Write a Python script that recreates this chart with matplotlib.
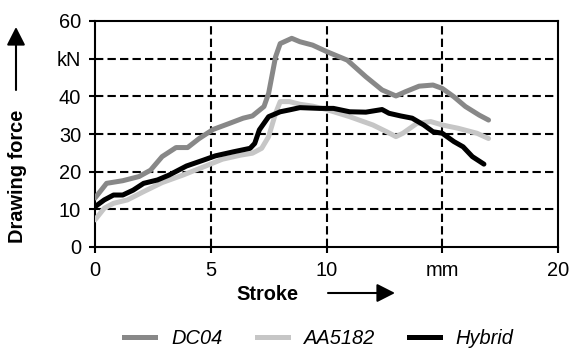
import matplotlib
matplotlib.use("Agg")
import matplotlib.pyplot as plt
from matplotlib.lines import Line2D

plt.rcParams['font.family'] = ['Liberation Sans', 'DejaVu Sans']

# ---- data ----
dc04_x = [0, 0.5, 1.2, 1.9, 2.4, 2.9, 3.5, 4.0, 4.5, 5.1, 5.8, 6.4, 6.8, 7.3, 7.5, 7.8, 8.0, 8.5, 8.85,
          9.4, 10.0, 10.9, 11.7, 12.4, 13.0, 13.4, 14.0, 14.6, 15.0, 15.5, 16.0, 16.6, 17.0]
dc04_y = [13.0, 16.9, 17.6, 18.7, 20.4, 24.0, 26.4, 26.4, 28.8, 31.2, 32.8, 34.2, 34.8, 37.3, 40.8, 50.5, 54.0, 55.4, 54.5,
          53.6, 51.9, 49.6, 45.2, 41.7, 40.1, 41.2, 42.7, 43.0, 42.1, 39.9, 37.3, 35.0, 33.7]

aa_x = [0, 0.4, 0.8, 1.4, 2.1, 2.9, 3.8, 4.7, 5.5, 6.3, 6.8, 7.2, 7.5, 7.8, 8.0, 8.4, 8.85,
        9.4, 10.0, 11.0, 12.0, 12.6, 13.0, 13.3, 13.9, 14.5, 15.0, 15.7, 16.5, 17.0]
aa_y = [7.2, 10.3, 11.6, 12.5, 14.7, 17.1, 19.1, 21.3, 23.3, 24.4, 24.9, 26.2, 29.3, 35.5, 38.6, 38.6, 37.9,
        37.4, 36.5, 34.6, 32.4, 30.6, 29.3, 30.2, 32.8, 33.3, 32.4, 31.5, 30.2, 28.8]

hy_x = [0, 0.4, 0.8, 1.2, 1.65, 2.1, 2.7, 3.2, 3.95, 4.7, 5.2, 6.0, 6.7, 6.9, 7.1, 7.5, 8.0, 8.4, 8.85,
        9.7, 10.3, 11.0, 11.7, 12.4, 12.7, 13.2, 13.7, 14.2, 14.6, 15.0, 15.5, 15.9, 16.3, 16.8]
hy_y = [10.7, 12.5, 13.8, 13.8, 15.1, 16.9, 17.8, 19.1, 21.5, 23.1, 24.2, 25.3, 26.2, 27.5, 31.1, 34.6, 35.9, 36.4, 37.0,
        36.8, 36.8, 35.9, 35.8, 36.5, 35.5, 34.8, 34.2, 32.4, 30.6, 30.2, 28.0, 26.6, 24.0, 22.0]

series_names = ['DC04', 'AA5182', 'Hybrid']
series_colors = ['#888888', '#c6c6c6', '#000000']

x_ticks = [0, 5, 10, 15, 20]
x_ticklabels = ['0', '5', '10', 'mm', '20']
y_ticks = [0, 10, 20, 30, 40, 50, 60]
y_ticklabels = ['0', '10', '20', '30', '40', 'kN', '60']

W, H = 571, 352
fig = plt.figure(figsize=(W / 100, H / 100), dpi=100)
ax = fig.add_axes([95 / W, 1 - 247 / H, (558 - 95) / W, (247 - 21) / H])

ax.set_xlim(0, 20)
ax.set_ylim(0, 60)

# grid
for xv in [5, 10, 15]:
    ax.axvline(xv, color='black', lw=1.5, linestyle=(0, (4, 2)), zorder=1)
for yv in [10, 20, 30, 40, 50]:
    ax.axhline(yv, color='black', lw=1.5, linestyle=(0, (4, 2)), zorder=1)

lw = 3.6
ax.plot(dc04_x, dc04_y, color=series_colors[0], lw=lw, solid_capstyle='round', solid_joinstyle='round', zorder=3)
ax.plot(aa_x, aa_y, color=series_colors[1], lw=lw, solid_capstyle='round', solid_joinstyle='round', zorder=3)
ax.plot(hy_x, hy_y, color=series_colors[2], lw=lw, solid_capstyle='round', solid_joinstyle='round', zorder=4)

for s in ax.spines.values():
    s.set_linewidth(1.5)
    s.set_color('black')

ax.set_xticks(x_ticks)
ax.set_xticklabels(x_ticklabels)
ax.set_yticks(y_ticks)
ax.set_yticklabels(y_ticklabels)
ax.tick_params(axis='both', direction='out', length=4, width=1.5, labelsize=14.4, pad=6)

# axis labels with arrows (figure pixel coordinates)
fig.text(267 / W, 1 - 295 / H, 'Stroke', ha='center', va='center', fontsize=14.4, fontweight='bold')
fig.text(18 / W, 1 - 176 / H, 'Drawing force', ha='center', va='center', rotation=90,
         fontsize=14.4, fontweight='bold')

arrow_style = '-|>,head_length=0.55,head_width=0.28'
ax.annotate('', xy=(395, H - 293), xytext=(328, H - 293), xycoords='figure pixels',
            textcoords='figure pixels',
            arrowprops=dict(arrowstyle=arrow_style, lw=1.5, color='black', mutation_scale=20,
                            shrinkA=0, shrinkB=0))
ax.annotate('', xy=(16, H - 27), xytext=(16, H - 90), xycoords='figure pixels',
            textcoords='figure pixels',
            arrowprops=dict(arrowstyle=arrow_style, lw=1.5, color='black', mutation_scale=20,
                            shrinkA=0, shrinkB=0))

handles = [Line2D([], [], color=c, lw=lw) for c in series_colors]
leg = fig.legend(handles, series_names, loc='center', bbox_to_anchor=(319 / W, 1 - 338 / H),
                 ncol=3, frameon=False, handlelength=1.55, handletextpad=0.8, columnspacing=1.7,
                 prop={'size': 14.4, 'style': 'italic'})

fig.savefig('out.png', dpi=100)
